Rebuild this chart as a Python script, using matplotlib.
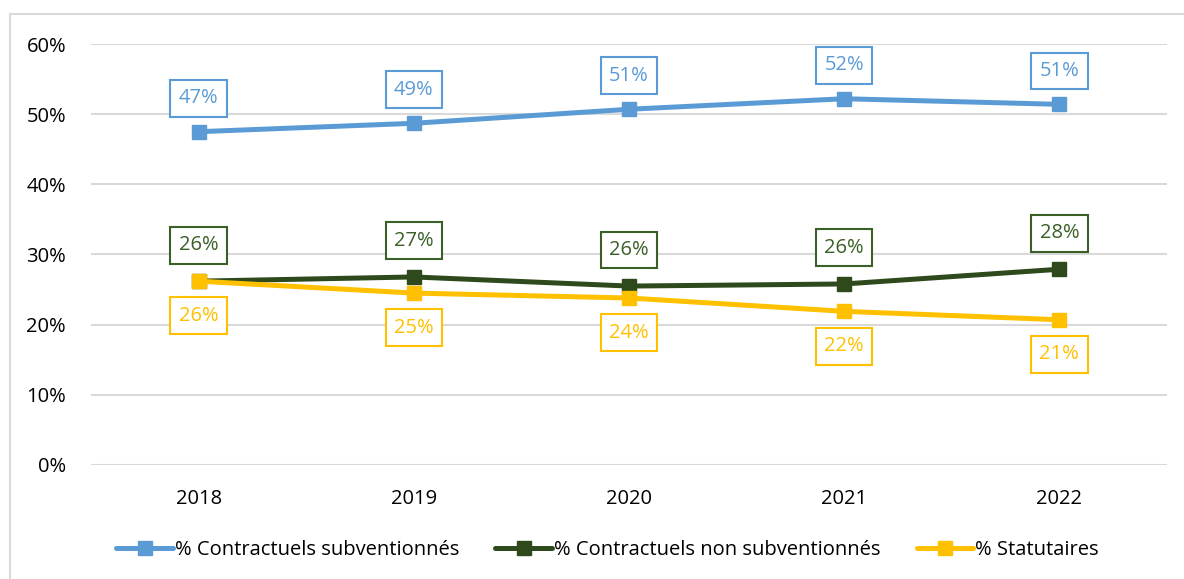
import matplotlib.pyplot as plt
from matplotlib.lines import Line2D

years = ["2018", "2019", "2020", "2021", "2022"]
subv = [47.5, 48.7, 50.7, 52.2, 51.4]
non_subv = [26.2, 26.8, 25.5, 25.8, 27.9]
statut = [26.2, 24.5, 23.8, 21.9, 20.7]
subv_lbl = ["47%", "49%", "51%", "52%", "51%"]
non_subv_lbl = ["26%", "27%", "26%", "26%", "28%"]
statut_lbl = ["26%", "25%", "24%", "22%", "21%"]

plt.rcParams['font.family'] = ['Open Sans', 'DejaVu Sans']

fig = plt.figure(figsize=(11.84, 5.79), dpi=100)
ax = fig.add_axes([0.0769, 0.1969, 0.9087, 0.7271])

# chart frame (left and top edges visible)
fx, fy = 10 / 1184, 1 - 14 / 579
fig.lines.append(Line2D([fx, fx], [0, fy], transform=fig.transFigure,
                        color='#d9d9d9', lw=1.5))
fig.lines.append(Line2D([fx, 1], [fy, fy], transform=fig.transFigure,
                        color='#d9d9d9', lw=1.5))

x = range(len(years))
series = [
    (subv, subv_lbl, '#5B9BD5', '#5B9BD5', '% Contractuels subventionnés', 24),
    (non_subv, non_subv_lbl, '#2E4A1C', '#3A5F27', '% Contractuels non subventionnés', 26),
    (statut, statut_lbl, '#FFC000', '#FFC000', '% Statutaires', -25),
]
for vals, lbls, col, tcol, name, off in series:
    ax.plot(x, vals, color=col, lw=3.6, marker='s', markersize=10,
            label=name, solid_capstyle='round', zorder=3)
    for i, (v, t) in enumerate(zip(vals, lbls)):
        ax.annotate(t, (i, v), xytext=(0, off), textcoords='offset points',
                    ha='center', va='center', fontsize=14.5, color=tcol,
                    bbox=dict(boxstyle='square,pad=0.42', fc='white',
                              ec=tcol, lw=1.5), zorder=4)

ax.set_xlim(-0.5, 4.5)
ax.set_ylim(0, 60)
ax.set_yticks(range(0, 61, 10))
ax.set_yticklabels([f"{v}%" for v in range(0, 61, 10)])
ax.set_xticks(list(x))
ax.set_xticklabels(years)
ax.tick_params(length=0, labelsize=14.5, colors='black')
ax.tick_params(axis='x', pad=17)
ax.tick_params(axis='y', pad=18)
ax.grid(axis='y', color='#d9d9d9', lw=1.5)
ax.set_axisbelow(True)
for s in ax.spines.values():
    s.set_visible(False)

ax.legend(loc='upper center', bbox_to_anchor=(0.48, -0.135), ncol=3,
          frameon=False, fontsize=14.5, handlelength=2.8,
          handletextpad=0.1, columnspacing=1.8)

fig.savefig('out.png', dpi=100)
